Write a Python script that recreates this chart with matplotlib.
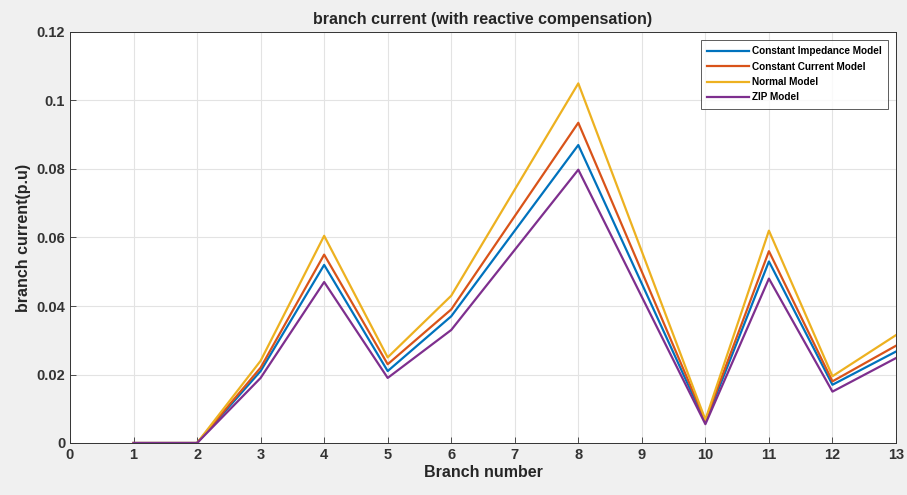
import matplotlib
matplotlib.use("Agg")
import matplotlib.pyplot as plt

plt.rcParams['font.family'] = ['Liberation Sans', 'DejaVu Sans']

branches = [1, 2, 3, 4, 5, 6, 8, 10, 11, 12, 13]
constant_impedance = [0, 0, 0.021, 0.052, 0.021, 0.037, 0.087, 0.0060, 0.053, 0.017, 0.0267]
constant_current = [0, 0, 0.022, 0.055, 0.023, 0.039, 0.0935, 0.0065, 0.056, 0.018, 0.0284]
normal_model = [0, 0, 0.024, 0.0605, 0.025, 0.043, 0.105, 0.0068, 0.062, 0.0195, 0.0315]
zip_model = [0, 0, 0.019, 0.047, 0.019, 0.033, 0.0798, 0.0055, 0.048, 0.015, 0.0248]

labels = ['Constant Impedance Model', 'Constant Current Model', 'Normal Model', 'ZIP Model']
colors = ['#0072BD', '#D95319', '#EDB120', '#7E2F8E']
xticks = list(range(0, 14))
yticks = [0, 0.02, 0.04, 0.06, 0.08, 0.1, 0.12]
ytick_labels = ['0', '0.02', '0.04', '0.06', '0.08', '0.1', '0.12']

fig = plt.figure(figsize=(9.07, 4.95), dpi=100, facecolor='#f0f0f0')
ax = fig.add_axes([70/907, 52/495, 826/907, 411/495])
ax.set_facecolor('white')

for series, lab, c in zip([constant_impedance, constant_current, normal_model, zip_model], labels, colors):
    ax.plot(branches, series, color=c, lw=1.6, label=lab)

ax.set_xlim(0, 13)
ax.set_ylim(0, 0.12)
ax.set_xticks(xticks)
ax.set_xticklabels([str(t) for t in xticks])
ax.set_yticks(yticks)
ax.set_yticklabels(ytick_labels)
ax.grid(True, color='#e3e3e3', lw=0.8)
ax.tick_params(direction='in', length=4, labelsize=10.5, colors='#333333', width=0.6)
for lab in ax.get_xticklabels() + ax.get_yticklabels():
    lab.set_fontweight('bold')
for s in ax.spines.values():
    s.set_color('#333333')
    s.set_linewidth(0.7)

ax.set_xlabel('Branch number', fontsize=11.5, fontweight='bold', color='#262626', labelpad=2)
ax.set_ylabel('branch current(p.u)', fontsize=11.5, fontweight='bold', color='#262626', labelpad=4)
ax.set_title('branch current (with reactive compensation)', fontsize=11.5, fontweight='bold', color='#262626', pad=6)

leg = ax.legend(loc='upper right', prop={'weight': 'bold', 'size': 7.2},
                frameon=True, fancybox=False, edgecolor='#333333', handlelength=4.2,
                borderaxespad=0.8, labelspacing=0.55, handletextpad=0.3, borderpad=0.6)
leg.get_frame().set_linewidth(0.7)

fig.savefig('out.png', dpi=100, facecolor=fig.get_facecolor())
